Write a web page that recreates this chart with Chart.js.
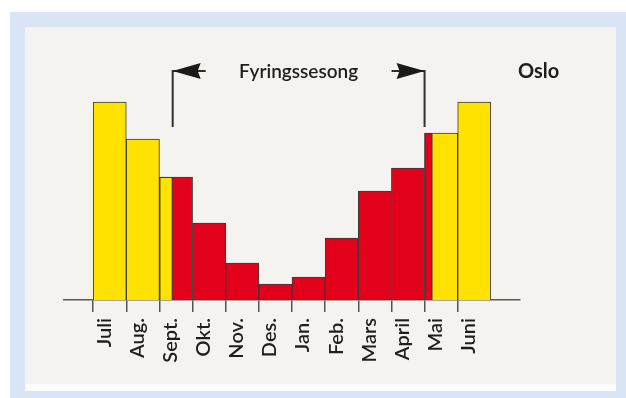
<!DOCTYPE html>
<html>
<head>
<meta charset="utf-8">
<script src="https://cdn.jsdelivr.net/npm/chart.js@4.4.1/dist/chart.umd.min.js"></script>
<style>
  html, body { margin: 0; padding: 0; background: #ffffff; }
  #wrap { position: relative; width: 626px; height: 398px; overflow: hidden; }
  #frame { position: absolute; left: 10px; top: 12px; width: 616px; height: 386px; background: #d9e5f5; }
  #panel { position: absolute; left: 25px; top: 27px; width: 591px; height: 357px; background: #f4f3f0; border-bottom: 7px solid #fcfcfb; }
  canvas { position: absolute; left: 0; top: 0; }
</style>
</head>
<body>
<div id="wrap">
  <div id="frame"></div>
  <div id="panel"></div>
  <canvas id="chart" width="626" height="398"></canvas>
</div>
<script>
// Months from July to June
const months = ['Juli', 'Aug.', 'Sept.', 'Okt.', 'Nov.', 'Des.', 'Jan.', 'Feb.', 'Mars', 'April', 'Mai', 'Juni'];
// Bar height per month
const levels = [19.8, 16.1, 12.3, 7.7, 3.7, 1.6, 2.3, 6.2, 10.9, 13.2, 16.7, 19.8];
// Heating season, in month-index units (each month spans i-0.5 .. i+0.5)
const seasonStart = 1.9;
const seasonEnd = 9.74;
// Where the two season arrows stand
const arrowMarks = [1.9, 9.5];
const arrowLevels = [17.3, 22.9];

const seasonTitle = 'Fyringssesong';
const placeName = 'Oslo';

const YELLOW = '#ffe200';
const RED = '#e2001a';
const EDGE = '#3d3a36';
const INK = '#1e1e1e';
const FONT = 'Lato, "DejaVu Sans", sans-serif';

const inSeason = v => v > seasonStart && v < seasonEnd;

const seasonPlugin = {
  id: 'season',
  afterDatasetsDraw(chart) {
    const { ctx, scales: { x, y } } = chart;
    const base = y.getPixelForValue(0);
    const bw = 1;
    levels.forEach((v, i) => {
      const lo = i - 0.5, hi = i + 0.5;
      const cuts = [lo];
      [seasonStart, seasonEnd].forEach(s => { if (s > lo && s < hi) cuts.push(s); });
      cuts.push(hi);
      const baseHeated = inSeason(i);
      for (let k = 0; k < cuts.length - 1; k++) {
        const a = cuts[k], b = cuts[k + 1];
        const heated = inSeason((a + b) / 2);
        if (heated === baseHeated) continue;
        const x0 = x.getPixelForValue(a);
        const x1 = x.getPixelForValue(b);
        const top = y.getPixelForValue(v);
        ctx.save();
        ctx.fillStyle = EDGE;
        ctx.fillRect(x0, top, x1 - x0, base - top);
        ctx.fillStyle = heated ? RED : YELLOW;
        ctx.fillRect(x0 + bw, top + bw, x1 - x0 - 2 * bw, base - top - bw);
        ctx.restore();
      }
    });
  },
  afterDraw(chart) {
    const { ctx, scales: { x, y }, chartArea } = chart;
    const yLow = y.getPixelForValue(arrowLevels[0]);
    const yTop = y.getPixelForValue(arrowLevels[1]);
    ctx.save();
    ctx.strokeStyle = '#2e2e2e';
    ctx.fillStyle = '#1a1a1a';
    ctx.lineWidth = 2;
    arrowMarks.forEach((m, k) => {
      const px = x.getPixelForValue(m);
      const dir = k === 0 ? 1 : -1; // tail direction away from the tip
      ctx.beginPath();
      ctx.moveTo(px, yLow);
      ctx.lineTo(px, yTop);
      ctx.lineTo(px + dir * 33, yTop);
      ctx.stroke();
      ctx.beginPath();
      ctx.moveTo(px, yTop);
      ctx.lineTo(px + dir * 28, yTop - 8);
      ctx.lineTo(px + dir * 25, yTop);
      ctx.lineTo(px + dir * 28, yTop + 8);
      ctx.closePath();
      ctx.fill();
    });
    const mid = (x.getPixelForValue(arrowMarks[0]) + x.getPixelForValue(arrowMarks[1])) / 2;
    ctx.fillStyle = INK;
    ctx.textBaseline = 'middle';
    ctx.textAlign = 'center';
    ctx.font = '600 19px ' + FONT;
    ctx.fillText(seasonTitle, mid, yTop + 1);
    ctx.textAlign = 'left';
    ctx.font = '700 20px ' + FONT;
    ctx.fillText(placeName, chartArea.right - 2, yTop + 1);
    ctx.restore();
  }
};

new Chart(document.getElementById('chart'), {
  type: 'bar',
  data: {
    datasets: [{
      data: levels.map((v, i) => ({ x: i, y: v })),
      backgroundColor: c => inSeason(c.dataIndex) ? RED : YELLOW,
      borderColor: EDGE,
      borderWidth: 1,
      barPercentage: 1,
      categoryPercentage: 1
    }]
  },
  options: {
    responsive: false,
    animation: false,
    devicePixelRatio: 1,
    layout: { padding: { left: 64, right: 106, top: 60, bottom: 18 } },
    plugins: { legend: { display: false }, tooltip: { enabled: false }, title: { display: false } },
    scales: {
      x: {
        type: 'linear',
        offset: false,
        min: -1.38,
        max: 12.38,
        afterBuildTicks: s => { s.ticks = months.map((m, i) => ({ value: i - 0.5 })); },
        afterFit: s => { s.height = 80; },
        ticks: {
          autoSkip: false,
          minRotation: 90,
          maxRotation: 90,
          labelOffset: 11,
          padding: 6,
          color: INK,
          font: { family: FONT, size: 20, weight: '600' },
          callback: v => months[Math.round(v + 0.5)]
        },
        grid: { offset: false, drawOnChartArea: false, drawTicks: true, tickLength: 12, color: '#555555', lineWidth: 1.5 },
        border: { display: true, color: '#5a5a5a', width: 1.5 }
      },
      y: { display: false, min: 0, max: 24 }
    }
  },
  plugins: [seasonPlugin]
});
</script>
</body>
</html>
